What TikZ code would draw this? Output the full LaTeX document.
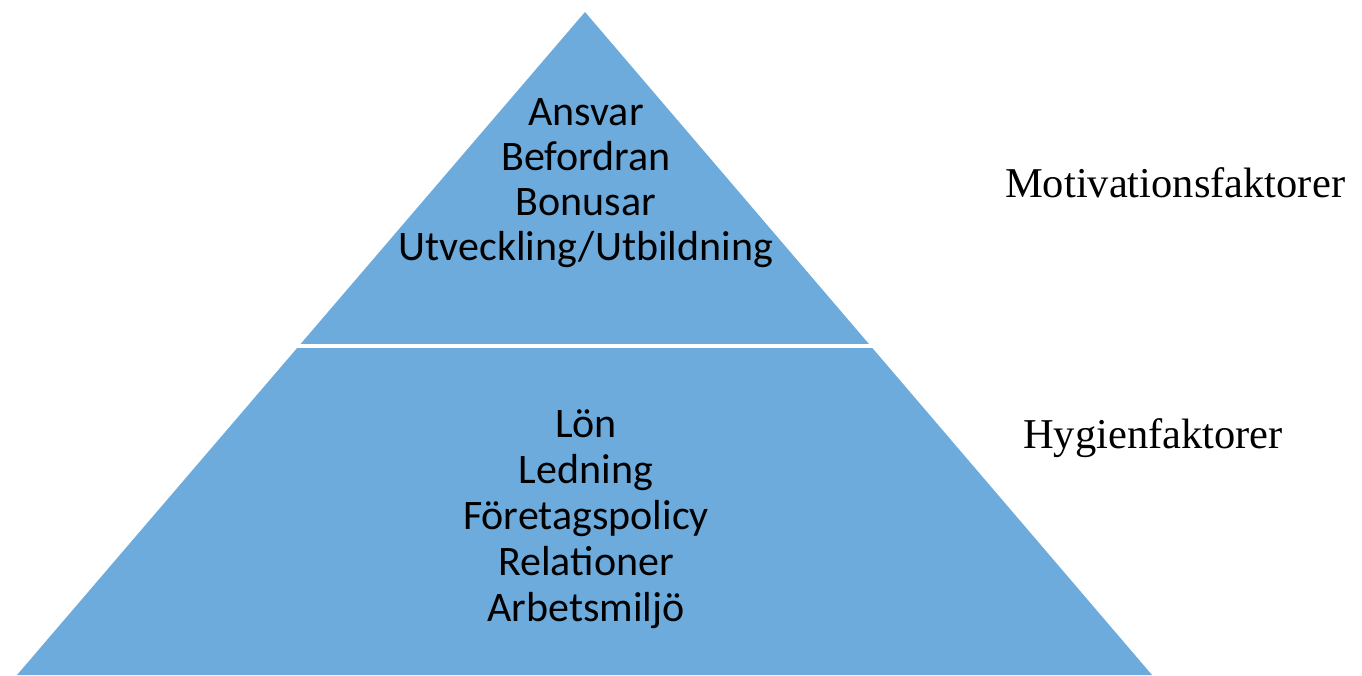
\documentclass[tikz,border=0pt]{standalone}
\usepackage{fontspec}
\setmainfont{Liberation Serif}
\newfontfamily\calfont{Carlito}
\definecolor{pyr}{RGB}{108,171,220}
\begin{document}
\begin{tikzpicture}[x=1pt,y=-1pt,
  inlabel/.style={font=\calfont\fontsize{42}{50}\selectfont, inner sep=0pt, anchor=base},
  sidelabel/.style={font=\fontsize{42.5}{50}\selectfont, inner sep=0pt, anchor=base west}]
\useasboundingbox (0,0) rectangle (1362,675);
\fill[pyr] (585,12) -- (1152,675) -- (17,675) -- cycle;
\draw[white, line width=3.5pt] (280,346) -- (890,346);
% upper block
\node[inlabel] (a1) at (586,125) {Ansvar};
\node[inlabel] (a2) at (586,170.5) {Befordran};
\node[inlabel] (a3) at (586,215.5) {Bonusar};
\node[inlabel] (a4) at (586,260.5) {Utveckling/Utbildning};
% lower block
\node[inlabel] (b1) at (586,437.5) {Lön};
\node[inlabel] (b2) at (586,483.5) {Ledning};
\node[inlabel] (b3) at (586,529.5) {Företagspolicy};
\node[inlabel] (b4) at (586,575) {Relationer};
\node[inlabel] (b5) at (586,621) {Arbetsmiljö};
% side labels
\node[sidelabel] (m) at (1005,197.5) {Motivationsfaktorer};
\node[sidelabel] (h) at (1023,448) {Hygienfaktorer};
\end{tikzpicture}
\end{document}
